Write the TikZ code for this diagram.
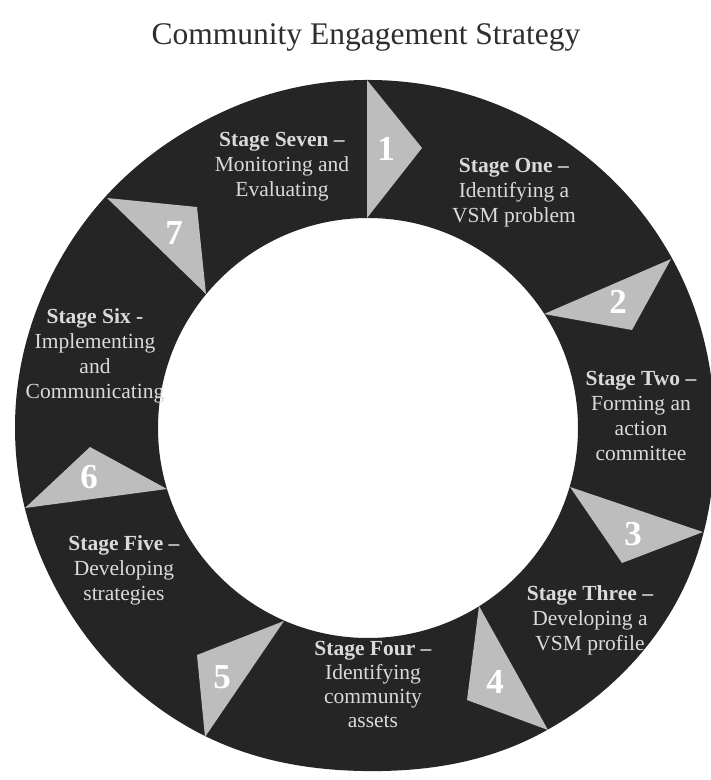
\documentclass[tikz,border=0pt]{standalone}
\usepackage{fontspec}
\setmainfont{Liberation Serif}
\definecolor{ringdark}{HTML}{252525}
\definecolor{trigrey}{HTML}{BDBDBD}
\definecolor{labgrey}{HTML}{DADADA}
\definecolor{titlegrey}{HTML}{2E2E2E}
\begin{document}
\begin{tikzpicture}[x=1pt,y=-1pt,
  tri/.style={fill=trigrey,draw=none},
  num/.style={text=white,inner sep=0pt,font=\fontsize{35}{35}\selectfont\bfseries},
  lab/.style={text=labgrey,align=center,inner sep=0pt,font=\fontsize{21.5}{25}\selectfont}]
\useasboundingbox (0,0) rectangle (711,780);
\fill[white] (0,0) rectangle (711,780);
\node[text=titlegrey,font=\fontsize{31.5}{31.5}\selectfont] (title) at (366,37) {Community Engagement Strategy};
% ring (slightly irregular outer edge, as in the scan)
\fill[ringdark,even odd rule]
  plot[smooth cycle,tension=0.64] coordinates {(715,425) (674.8,605) (541,733.3) (363,771) (188.5,727.2) (61.6,599)
    (15,425) (64.2,252.5) (191.5,128) (363,80) (537,123.6) (667,249.5)}
  (368,428) circle[radius=210pt];
% triangles
\fill[tri] (367,80) -- (367,218) -- (422,148) -- cycle;
\fill[tri] (671,259) -- (544,314) -- (632,330) -- cycle;
\fill[tri] (570,487) -- (703,532) -- (622,563) -- cycle;
\fill[tri] (479,606) -- (548,730) -- (467,700) -- cycle;
\fill[tri] (284,621) -- (205,737) -- (197,655) -- cycle;
\fill[tri] (167,489) -- (25,508) -- (90,447) -- cycle;
\fill[tri] (107,198) -- (206,294) -- (197,207) -- cycle;
% numbers
\node[num] (n1) at (386,149) {1};
\node[num] (n2) at (618,302) {2};
\node[num] (n3) at (633,534) {3};
\node[num] (n4) at (495,682) {4};
\node[num] (n5) at (222,677) {5};
\node[num] (n6) at (89,477) {6};
\node[num] (n7) at (174,233) {7};
% labels
\node[lab] (s7) at (282,167) {\textbf{Stage Seven –}\\Monitoring and\\Evaluating};
\node[lab] (s1) at (514,193) {\textbf{Stage One –}\\Identifying a\\VSM problem};
\node[lab] (s2) at (641,416) {\textbf{Stage Two –}\\Forming an\\action\\committee};
\node[lab] (s3) at (590,620) {\textbf{Stage Three –}\\Developing a\\VSM profile};
\node[lab,font=\fontsize{21.5}{24}\selectfont] (s4) at (373,684) {\textbf{Stage Four –}\\Identifying\\community\\assets};
\node[lab] (s5) at (124,570) {\textbf{Stage Five –}\\Developing\\strategies};
\node[lab] (s6) at (95,356) {\textbf{Stage Six -}\\Implementing\\and\\Communicating};
\end{tikzpicture}
\end{document}
